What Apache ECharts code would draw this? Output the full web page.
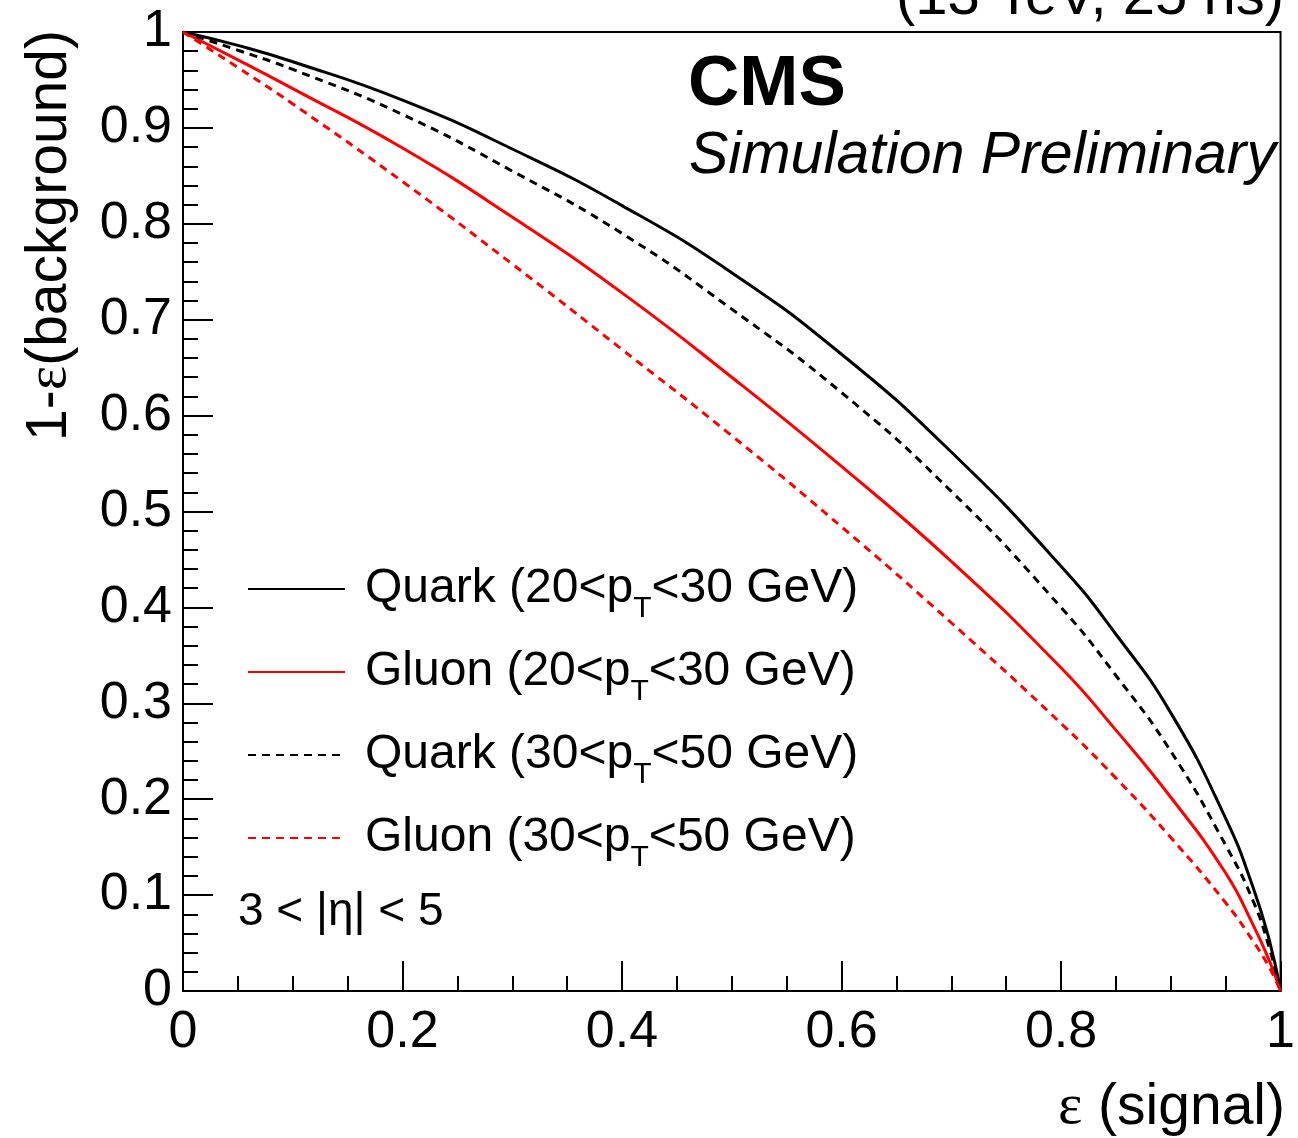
<!DOCTYPE html>
<html>
<head>
<meta charset="utf-8">
<script src="https://cdn.jsdelivr.net/npm/echarts@6/dist/echarts.min.js"></script>
<style>
html,body{margin:0;padding:0;background:#fff;}
#chart{width:1298px;height:1138px;}
</style>
</head>
<body>
<div id="chart"></div>
<script>
// signal efficiency (x)
const signalEff = [0, 0.05, 0.1, 0.2, 0.3, 0.4, 0.5, 0.6, 0.7, 0.8, 0.85, 0.9, 0.95, 0.975, 0.99, 1.0];
// 1 - background efficiency (y)
const quark20to30 = [1, 0.986, 0.969, 0.929, 0.878, 0.819, 0.749, 0.664, 0.562, 0.443, 0.372, 0.290, 0.180, 0.108, 0.052, 0];
const gluon20to30 = [1, 0.971, 0.941, 0.879, 0.807, 0.728, 0.640, 0.547, 0.448, 0.337, 0.272, 0.202, 0.123, 0.069, 0.031, 0];
const quark30to50 = [1, 0.981, 0.961, 0.914, 0.855, 0.790, 0.711, 0.624, 0.521, 0.400, 0.329, 0.250, 0.152, 0.094, 0.044, 0];
const gluon30to50 = [1, 0.963, 0.925, 0.844, 0.758, 0.669, 0.579, 0.484, 0.384, 0.279, 0.222, 0.160, 0.092, 0.052, 0.024, 0];

const seriesNames = ['Quark 20-30', 'Gluon 20-30', 'Quark 30-50', 'Gluon 30-50'];
const legendLabels = {
  'Quark 20-30': ['Quark (20<p', 'T', '<30 GeV)'],
  'Gluon 20-30': ['Gluon (20<p', 'T', '<30 GeV)'],
  'Quark 30-50': ['Quark (30<p', 'T', '<50 GeV)'],
  'Gluon 30-50': ['Gluon (30<p', 'T', '<50 GeV)']
};
const xTickLabels = ['0', '0.2', '0.4', '0.6', '0.8', '1'];
const yTickLabels = ['0', '0.1', '0.2', '0.3', '0.4', '0.5', '0.6', '0.7', '0.8', '0.9', '1'];

const FONT = 'Liberation Sans, Arial, Helvetica, sans-serif';

function pairs(ys) { return signalEff.map((x, i) => [x, ys[i]]); }

const chart = echarts.init(document.getElementById('chart'), null, {renderer: 'canvas'});

function fmtX(v) {
  const i = Math.round(v / 0.2);
  return Math.abs(v - i * 0.2) < 1e-6 ? xTickLabels[i] : '';
}
function fmtY(v) {
  const i = Math.round(v / 0.1);
  return Math.abs(v - i * 0.1) < 1e-6 ? yTickLabels[i] : '';
}

function lineSeries(name, ys, color, dash) {
  return {
    name: name, type: 'line', data: pairs(ys),
    showSymbol: false, symbol: 'none', symbolSize: 0,
    smooth: 0.5,
    lineStyle: {color: color, width: 3, type: dash ? [8, 6] : 'solid'},
    itemStyle: {color: color}
  };
}

const option = {
  animation: false,
  backgroundColor: '#fff',
  grid: {
    left: 183, right: 12, top: 32, bottom: 147,
    show: true, borderColor: '#000', borderWidth: 2, backgroundColor: 'transparent'
  },
  xAxis: {
    type: 'value', min: 0, max: 1, interval: 0.2,
    axisLine: {show: true, lineStyle: {color: '#000', width: 2}},
    axisTick: {show: true, inside: true, length: 30, lineStyle: {color: '#000', width: 2}},
    minorTick: {show: true, splitNumber: 4, length: 15, lineStyle: {color: '#000', width: 2}},
    splitLine: {show: false},
    axisLabel: {fontSize: 52, color: '#000', fontFamily: FONT, margin: 16, formatter: fmtX, showMaxLabel: true, showMinLabel: true}
  },
  yAxis: {
    type: 'value', min: 0, max: 1, interval: 0.1,
    axisLine: {show: true, lineStyle: {color: '#000', width: 2}},
    axisTick: {show: true, inside: true, length: 30, lineStyle: {color: '#000', width: 2}},
    minorTick: {show: true, splitNumber: 5, length: 15, lineStyle: {color: '#000', width: 2}},
    splitLine: {show: false},
    axisLabel: {fontSize: 52, color: '#000', fontFamily: FONT, margin: 11, formatter: fmtY, showMaxLabel: true, showMinLabel: true}
  },
  legend: {
    orient: 'vertical',
    left: 247, top: 565,
    padding: 0,
    itemWidth: 97, itemHeight: 20, itemGap: 24,
    itemStyle: {opacity: 0},
    data: seriesNames,
    formatter: function (name) {
      const p = legendLabels[name];
      return '{sp|}{a|' + p[0] + '}{sub|' + p[1] + '}{a|' + p[2] + '}';
    },
    textStyle: {
      color: '#000',
      rich: {
        sp: {width: 15},
        a: {fontSize: 48, fontFamily: FONT, color: '#000', lineHeight: 70},
        sub: {fontSize: 30, fontFamily: FONT, color: '#000', lineHeight: 4, verticalAlign: 'bottom'}
      }
    }
  },
  series: [
    lineSeries(seriesNames[0], quark20to30, '#000', false),
    lineSeries(seriesNames[1], gluon20to30, '#ff0000', false),
    lineSeries(seriesNames[2], quark30to50, '#000', true),
    lineSeries(seriesNames[3], gluon30to50, '#ff0000', true)
  ],
  graphic: [
    {type: 'text', left: 688, top: 50, style: {text: 'CMS', font: 'bold 71px ' + FONT, fill: '#000'}},
    {type: 'text', left: 689, top: 127, style: {text: 'Simulation Preliminary', font: 'italic 59px ' + FONT, fill: '#000'}},
    {type: 'text', x: 1284, y: -2, style: {text: '(13 TeV, 25 ns)', font: '58px ' + FONT, fill: '#000', textAlign: 'right', textVerticalAlign: 'middle'}},
    {type: 'text', x: 238, y: 912, style: {text: '3 < |η| < 5', font: '46px ' + FONT, fill: '#000', textAlign: 'left', textVerticalAlign: 'middle'}},
    {type: 'text', x: 1285, y: 1108, style: {
      text: '{e|ε}{a| (signal)}', textAlign: 'right', textVerticalAlign: 'middle',
      rich: {
        e: {fontFamily: 'Liberation Serif, DejaVu Serif, serif', fontSize: 58, fill: '#000'},
        a: {fontFamily: FONT, fontSize: 57, fill: '#000'}
      }
    }},
    {type: 'text', x: 50, y: 30, rotation: Math.PI / 2, style: {
      text: '{a|1-}{e|ε}{a|(background)}', textAlign: 'right', textVerticalAlign: 'middle',
      rich: {
        e: {fontFamily: 'Liberation Serif, DejaVu Serif, serif', fontSize: 58, fill: '#000'},
        a: {fontFamily: FONT, fontSize: 57, fill: '#000'}
      }
    }}
  ]
};
chart.setOption(option);
</script>
</body>
</html>
